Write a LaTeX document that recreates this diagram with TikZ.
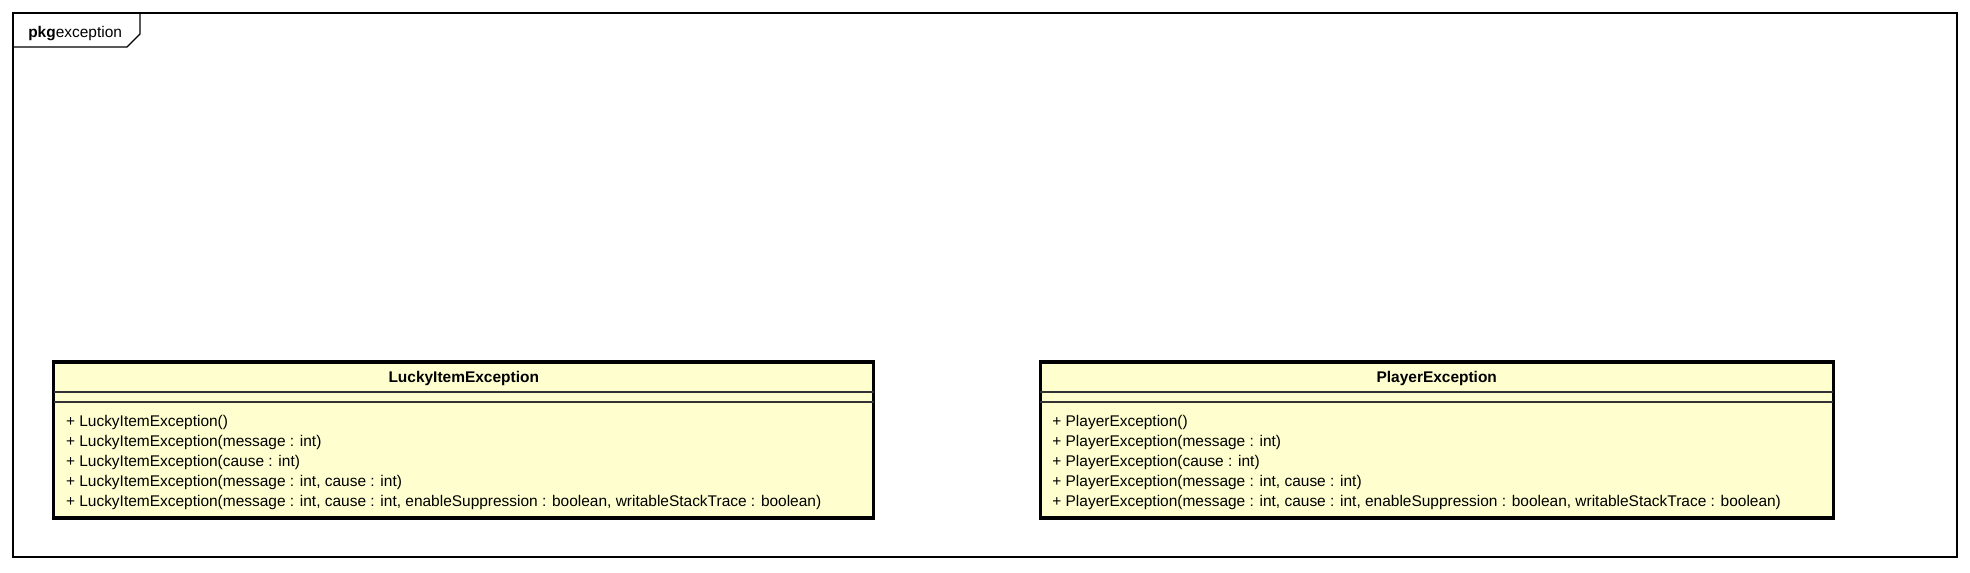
\documentclass[tikz,border=0pt]{standalone}
\usepackage{fontspec}
\setmainfont{Liberation Sans}
\usepackage{tikz}
\definecolor{classfill}{HTML}{FEFECE}
\newcommand{\umlfont}{\fontsize{11.6}{13}\selectfont}
\tikzstyle{frame}=[draw, line width=1pt]
\tikzstyle{classbox}=[draw, line width=2.3pt, fill=classfill, inner sep=0, outer sep=0, minimum height=117pt]
\tikzstyle{divider}=[draw=black!80, line width=1pt]
\tikzstyle{classname}=[inner sep=0, font=\umlfont\bfseries]
\tikzstyle{operation}=[inner sep=0, anchor=base west, font=\umlfont]

\begin{document}
\begin{tikzpicture}[x=0.75pt, y=-0.75pt]
        \useasboundingbox (0, 0) rectangle (1970, 572);
        % Package frame with its tab.
        \draw[frame] (13, 13) rectangle (1957, 557);
        \draw[frame] (140, 13) -- (140, 34) -- (127, 47) -- (13, 47);
        \node[inner sep=0, anchor=base west, font=\umlfont] (pkglabel) at (28, 37.5) {\textbf{pkg}exception};
        % Classes.
        \node[classbox, minimum width=615pt] (Lucky) at (463.75, 440) {};
        \node[classbox, minimum width=595pt] (Player) at (1436.75, 440) {};
        \draw[divider] ([yshift=-22.5pt]Lucky.north west) -- ([yshift=-22.5pt]Lucky.north east);
        \draw[divider] ([yshift=-30pt]Lucky.north west) -- ([yshift=-30pt]Lucky.north east);
        \draw[divider] ([yshift=-22.5pt]Player.north west) -- ([yshift=-22.5pt]Player.north east);
        \draw[divider] ([yshift=-30pt]Player.north west) -- ([yshift=-30pt]Player.north east);
        \node[classname] (LuckyName) at ([yshift=-12pt]Lucky.north) {LuckyItemException};
        \node[classname] (PlayerName) at ([yshift=-12pt]Player.north) {PlayerException};
        \node[operation] (LuckyOp1) at ([xshift=9pt, yshift=-48.4pt]Lucky.north west) {+ LuckyItemException()};
        \node[operation] (LuckyOp2) at ([yshift=-15pt]LuckyOp1.base west) {+ LuckyItemException(message : int)};
        \node[operation] (LuckyOp3) at ([yshift=-15pt]LuckyOp2.base west) {+ LuckyItemException(cause : int)};
        \node[operation] (LuckyOp4) at ([yshift=-15pt]LuckyOp3.base west) {+ LuckyItemException(message : int, cause : int)};
        \node[operation] (LuckyOp5) at ([yshift=-15pt]LuckyOp4.base west) {+ LuckyItemException(message : int, cause : int, enableSuppression : boolean, writableStackTrace : boolean)};
        \node[operation] (PlayerOp1) at ([xshift=9pt, yshift=-48.4pt]Player.north west) {+ PlayerException()};
        \node[operation] (PlayerOp2) at ([yshift=-15pt]PlayerOp1.base west) {+ PlayerException(message : int)};
        \node[operation] (PlayerOp3) at ([yshift=-15pt]PlayerOp2.base west) {+ PlayerException(cause : int)};
        \node[operation] (PlayerOp4) at ([yshift=-15pt]PlayerOp3.base west) {+ PlayerException(message : int, cause : int)};
        \node[operation] (PlayerOp5) at ([yshift=-15pt]PlayerOp4.base west) {+ PlayerException(message : int, cause : int, enableSuppression : boolean, writableStackTrace : boolean)};
    \end{tikzpicture}
\end{document}
